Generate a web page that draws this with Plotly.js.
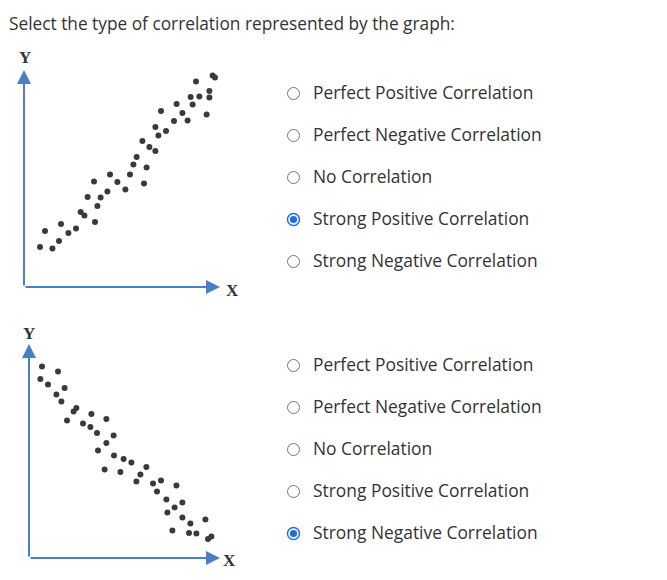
<!DOCTYPE html>
<html>
<head>
<meta charset="utf-8">
<script src="https://cdn.plot.ly/plotly-3.0.1.min.js"></script>
<style>html,body{margin:0;padding:0;background:#fff;}#chart{width:667px;height:580px;}</style>
</head>
<body>
<div id="chart"></div>
<script>
// ---- Data ----
const posX = [0.8,1.42,1.05,1.75,1.85,2.22,2.6,2.83,3.02,3.55,3.18,3.67,3.83,3.5,4.17,4.3,4.67,5.07,5.3,5.47,5.63,6.0,6.13,5.92,6.27,6.57,6.57,6.72,6.85,7.1,7.5,7.63,7.92,8.18,8.43,8.33,8.77,8.6,9.13,9.27,9.27,9.43,9.55];
const posY = [2.0,1.92,2.8,2.3,3.15,2.7,2.93,3.75,3.58,3.25,4.5,4.05,4.47,5.28,4.78,5.62,5.25,4.87,5.63,6.13,6.5,5.17,5.97,7.3,7.0,6.8,8.0,7.58,8.8,7.8,8.3,9.15,8.7,8.33,9.13,9.5,9.53,10.28,8.63,9.47,9.8,10.58,10.47];
const negX = [0.65,1.45,0.57,0.95,1.78,1.37,1.62,2.37,2.23,1.9,3.12,3.87,2.7,3.07,3.4,4.23,3.87,3.45,4.25,4.73,5.12,3.78,4.57,5.87,5.57,5.37,6.2,6.6,7.37,6.4,6.87,7.67,7.28,6.92,7.67,8.07,8.82,7.17,8.0,8.37,8.95,9.12];
const negY = [9.58,9.33,8.95,8.67,8.5,8.17,7.83,7.5,7.33,6.88,7.2,6.95,6.72,6.55,6.25,6.12,5.75,5.38,5.12,4.95,4.78,4.42,4.3,4.55,4.17,3.83,3.72,3.88,3.63,3.33,2.92,2.78,2.53,2.28,2.03,1.72,1.92,1.37,1.25,1.22,0.95,1.08];
const questionText = "Select the type of correlation represented by the graph:";
const options = ["Perfect Positive Correlation","Perfect Negative Correlation","No Correlation","Strong Positive Correlation","Strong Negative Correlation"];
const selectedTop = 3;
const selectedBottom = 4;
const axisEnds = {top:{x:9.8,y:10.85}, bottom:{x:9.55,y:10.7}};

// ---- Layout helpers ----
const W = 667, H = 580;
const px = v => v / W;
const py = v => 1 - v / H;
const dotColor = '#3a3a3a';
const axisColor = '#4a7fc4';

const traces = [
  {x: posX, y: posY, xaxis:'x', yaxis:'y', mode:'markers', type:'scatter',
   marker:{size:6, color:dotColor, symbol:'circle'}, hoverinfo:'skip'},
  {x: negX, y: negY, xaxis:'x2', yaxis:'y2', mode:'markers', type:'scatter',
   marker:{size:6, color:dotColor, symbol:'circle'}, hoverinfo:'skip'}
];

const annotations = [];
const shapes = [];

function axisArrows(xr, yr, ends) {
  annotations.push({xref:xr, yref:yr, axref:xr, ayref:yr, x:ends.x, y:0, ax:0, ay:0,
    showarrow:true, arrowhead:2, arrowsize:1.4, arrowwidth:2, arrowcolor:axisColor, text:''});
  annotations.push({xref:xr, yref:yr, axref:xr, ayref:yr, x:0, y:ends.y, ax:0, ay:0,
    showarrow:true, arrowhead:2, arrowsize:1.4, arrowwidth:2, arrowcolor:axisColor, text:''});
}
axisArrows('x','y',axisEnds.top);
axisArrows('x2','y2',axisEnds.bottom);

const axisLabelFont = {family:'Liberation Serif, DejaVu Serif, serif', size:17, color:'#2b3440', weight:'bold'};
annotations.push({xref:'paper', yref:'paper', x:px(25), y:py(57), text:'<b>Y</b>', showarrow:false, font:axisLabelFont, xanchor:'center', yanchor:'middle'});
annotations.push({xref:'paper', yref:'paper', x:px(232), y:py(290), text:'<b>X</b>', showarrow:false, font:axisLabelFont, xanchor:'center', yanchor:'middle'});
annotations.push({xref:'paper', yref:'paper', x:px(29), y:py(333), text:'<b>Y</b>', showarrow:false, font:axisLabelFont, xanchor:'center', yanchor:'middle'});
annotations.push({xref:'paper', yref:'paper', x:px(229), y:py(560), text:'<b>X</b>', showarrow:false, font:axisLabelFont, xanchor:'center', yanchor:'middle'});

// Question text
annotations.push({xref:'paper', yref:'paper', x:px(7), y:py(23), text:questionText, showarrow:false,
  xanchor:'left', yanchor:'middle', font:{family:'Open Sans, sans-serif', size:17.3, color:'#333333'}});

// Radio groups
function radioGroup(startY, sel) {
  options.forEach((opt, i) => {
    const cy = startY + i * 42;
    annotations.push({xref:'paper', yref:'paper', x:px(311), y:py(cy), text:opt, showarrow:false,
      xanchor:'left', yanchor:'middle', font:{family:'Open Sans, sans-serif', size:17.4, color:'#333333'}});
    const cx = 293.5, cyc = cy + 1.5, r = 6;
    if (i === sel) {
      shapes.push({type:'circle', xref:'paper', yref:'paper', x0:px(cx-r), x1:px(cx+r), y0:py(cyc+r), y1:py(cyc-r),
        line:{color:'#1a6ee6', width:1.5}, fillcolor:'#ffffff'});
      shapes.push({type:'circle', xref:'paper', yref:'paper', x0:px(cx-3.6), x1:px(cx+3.6), y0:py(cyc+3.6), y1:py(cyc-3.6),
        line:{width:0}, fillcolor:'#1a6ee6'});
    } else {
      shapes.push({type:'circle', xref:'paper', yref:'paper', x0:px(cx-r), x1:px(cx+r), y0:py(cyc+r), y1:py(cyc-r),
        line:{color:'#767676', width:1}, fillcolor:'#ffffff'});
    }
  });
}
radioGroup(92, selectedTop);
radioGroup(364, selectedBottom);

const hidden = {showgrid:false, zeroline:false, showticklabels:false, ticks:'', showline:false, fixedrange:true};

const layout = {
  width: W, height: H,
  margin:{l:0, r:0, t:0, b:0},
  paper_bgcolor:'#ffffff', plot_bgcolor:'rgba(0,0,0,0)',
  showlegend:false,
  xaxis: Object.assign({}, hidden, {domain:[0, 240/W], range:[-1.2, 10.8]}),
  yaxis: Object.assign({}, hidden, {domain:[py(297), py(57)], range:[-0.5, 11.5]}),
  xaxis2: Object.assign({}, hidden, {domain:[0, 240/W], range:[-1.45, 10.55], anchor:'y2'}),
  yaxis2: Object.assign({}, hidden, {domain:[py(568), py(328)], range:[-0.5, 11.5], anchor:'x2'}),
  annotations: annotations,
  shapes: shapes
};

Plotly.newPlot('chart', traces, layout, {staticPlot:true, displayModeBar:false});
</script>
</body>
</html>
